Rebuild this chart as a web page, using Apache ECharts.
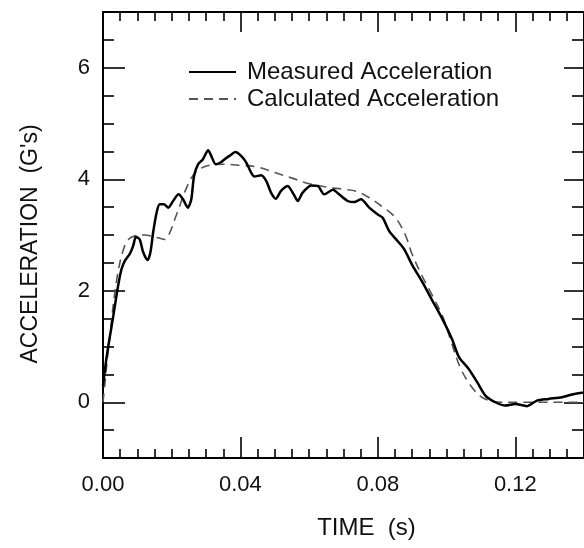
<!DOCTYPE html>
<html>
<head>
<meta charset="utf-8">
<script src="https://cdn.jsdelivr.net/npm/echarts@6/dist/echarts.min.js"></script>
<style>
html,body{margin:0;padding:0;background:#fff;}
#chart{width:584px;height:548px;}
</style>
</head>
<body>
<div id="chart"></div>
<script>
// ---- data ----
const timeMeasured = [0,0.0011,0.003,0.0044,0.0054,0.0064,0.0078,0.0088,0.0096,0.0107,0.0117,0.013,0.0138,0.0146,0.0156,0.0165,0.0177,0.019,0.0204,0.022,0.0233,0.0247,0.0257,0.0265,0.0277,0.0291,0.0306,0.0315,0.0328,0.0342,0.0354,0.0368,0.0386,0.0402,0.0417,0.0431,0.0441,0.046,0.0475,0.0489,0.0503,0.0518,0.0538,0.0543,0.0556,0.0567,0.0581,0.0606,0.0625,0.0644,0.0669,0.0687,0.0712,0.0731,0.0751,0.0775,0.0799,0.0814,0.0833,0.0852,0.0876,0.0901,0.093,0.0959,0.0988,0.1016,0.1036,0.1064,0.1089,0.1113,0.1142,0.1171,0.12,0.1234,0.1263,0.1297,0.1336,0.136,0.1394,0.14];
const accelMeasured = [0.3,0.83,1.55,2.09,2.39,2.54,2.66,2.81,2.97,2.92,2.69,2.55,2.69,3.05,3.40,3.55,3.55,3.49,3.61,3.73,3.64,3.49,3.64,4.06,4.27,4.36,4.52,4.42,4.27,4.30,4.36,4.42,4.49,4.42,4.30,4.12,4.05,4.07,3.97,3.76,3.65,3.79,3.88,3.85,3.72,3.61,3.76,3.89,3.88,3.73,3.81,3.73,3.61,3.59,3.64,3.49,3.37,3.31,3.07,2.93,2.75,2.45,2.15,1.82,1.49,1.13,0.81,0.60,0.36,0.12,0.0,-0.06,-0.03,-0.07,0.03,0.06,0.09,0.13,0.17,0.17];
const timeCalculated = [0,0.002,0.004,0.006,0.008,0.012,0.016,0.018,0.0195,0.021,0.0225,0.024,0.026,0.028,0.031,0.035,0.040,0.045,0.050,0.055,0.060,0.065,0.070,0.074,0.078,0.081,0.085,0.088,0.090,0.093,0.096,0.099,0.101,0.104,0.107,0.110,0.113,0.116,0.14];
const accelCalculated = [0,1.2,2.2,2.75,2.95,3.0,2.95,2.92,3.05,3.3,3.55,3.8,4.05,4.18,4.25,4.27,4.25,4.22,4.12,4.02,3.92,3.86,3.82,3.78,3.65,3.52,3.32,3.0,2.65,2.25,1.9,1.52,1.15,0.62,0.3,0.1,0.02,0,0];
const seriesNames = ['Measured Acceleration','Calculated Acceleration'];
const xTickLabels = [0,0.04,0.08,0.12];
const yTickLabels = [0,2,4,6];
const xMinorStep = 0.005, xMin = 0, xMax = 0.14;
const yMinorStep = 0.5, yMin = -1, yMax = 7;

// ---- derived tick lists ----
function steps(min,max,step){const out=[];const n=Math.round((max-min)/step);for(let i=0;i<=n;i++){out.push(+(min+i*step).toFixed(6));}return out;}
const xMinor = steps(xMin,xMax,xMinorStep).filter(v=>!xTickLabels.some(m=>Math.abs(m-v)<1e-9));
const yMinor = steps(yMin,yMax,yMinorStep).filter(v=>!yTickLabels.some(m=>Math.abs(m-v)<1e-9));

const FONT = 'Liberation Sans';
const pair = (xs,ys)=>xs.map((x,i)=>[x,ys[i]]);

function xAx(pos, ticks, len, opts){
  return Object.assign({
    type:'value', position:pos, min:xMin, max:xMax, interval:xMinorStep,
    axisLine:{show:false, onZero:false}, splitLine:{show:false},
    axisTick:{show:true, inside:true, length:len, customValues:ticks, lineStyle:{color:'#000', width:1.6}},
    axisLabel:{show:false}
  }, opts||{});
}
function yAx(pos, ticks, len, opts){
  return Object.assign({
    type:'value', position:pos, min:yMin, max:yMax, interval:yMinorStep,
    axisLine:{show:false, onZero:false}, splitLine:{show:false},
    axisTick:{show:true, inside:true, length:len, customValues:ticks, lineStyle:{color:'#000', width:1.6}},
    axisLabel:{show:false}
  }, opts||{});
}

const chart = echarts.init(document.getElementById('chart'));
chart.setOption({
  animation:false,
  backgroundColor:'#fff',
  grid:{left:103, right:-2, top:12, bottom:90},
  legend:{
    orient:'vertical', left:183, top:55, itemWidth:47, itemHeight:14, itemGap:3,
    itemStyle:{opacity:0},
    textStyle:{fontFamily:FONT, fontSize:24, color:'#111', padding:[0,0,0,6]},
    data:seriesNames
  },
  xAxis:[
    xAx('bottom', xTickLabels, 21, {
      axisLine:{show:true, onZero:false, lineStyle:{color:'#000', width:2}},
      axisLabel:{show:true, customValues:xTickLabels, margin:16, fontFamily:FONT, fontSize:22, color:'#111', formatter:v=>v.toFixed(2)},
      name:'TIME  (s)', nameLocation:'middle', nameGap:58,
      nameTextStyle:{fontFamily:FONT, fontSize:24, color:'#111', padding:[0,0,0,46]}
    }),
    xAx('bottom', xMinor, 9),
    xAx('top', xTickLabels, 20, {axisLine:{show:true, onZero:false, lineStyle:{color:'#000', width:2}}}),
    xAx('top', xMinor, 9)
  ],
  yAxis:[
    yAx('left', yTickLabels, 22, {
      axisLine:{show:true, onZero:false, lineStyle:{color:'#000', width:2}},
      axisLabel:{show:true, customValues:yTickLabels, margin:13, fontFamily:FONT, fontSize:22, color:'#111'},
      name:"ACCELERATION  (G's)", nameLocation:'middle', nameGap:61,
      nameTextStyle:{fontFamily:FONT, fontSize:23, color:'#111', padding:[0,18,0,0]}
    }),
    yAx('left', yMinor, 11),
    yAx('right', yTickLabels, 20, {axisLine:{show:true, onZero:false, lineStyle:{color:'#000', width:2}}}),
    yAx('right', yMinor, 12)
  ],
  series:[
    {name:seriesNames[0], type:'line', xAxisIndex:0, yAxisIndex:0, data:pair(timeMeasured,accelMeasured),
     symbol:'none', smooth:0.25, lineStyle:{color:'#000', width:2.5, type:'solid'}, itemStyle:{color:'#000'}, z:3},
    {name:seriesNames[1], type:'line', xAxisIndex:0, yAxisIndex:0, data:pair(timeCalculated,accelCalculated),
     symbol:'none', smooth:0.35, lineStyle:{color:'#555', width:1.6, type:[9,6]}, itemStyle:{color:'#555'}, z:2}
  ]
});
</script>
</body>
</html>
